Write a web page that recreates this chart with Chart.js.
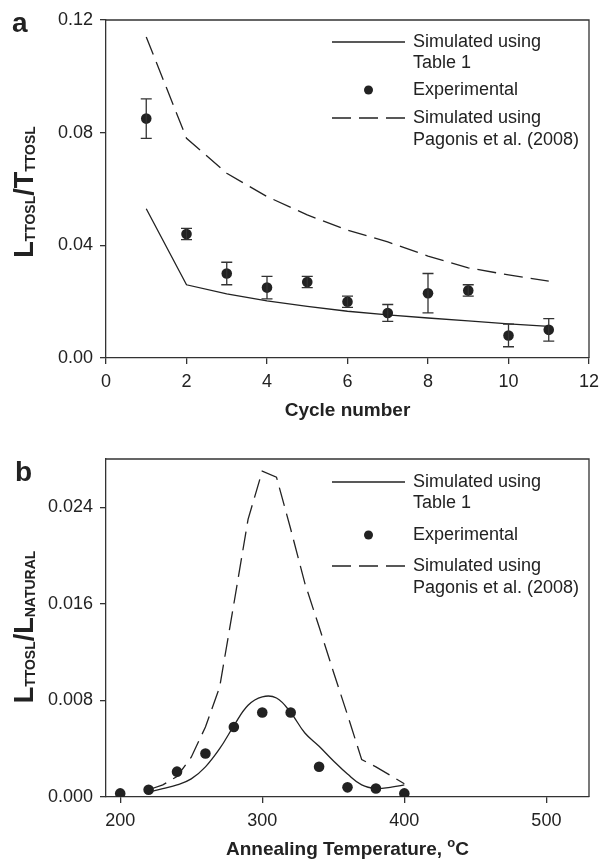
<!DOCTYPE html>
<html>
<head>
<meta charset="utf-8">
<script src="https://cdn.jsdelivr.net/npm/chart.js@4.4.1/dist/chart.umd.min.js"></script>
<style>
  body { margin: 0; background: #fff; }
  #wrap { position: relative; width: 601px; height: 860px; }
  canvas { position: absolute; left: 0; }
  #cA { top: 0; }
  #cB { top: 420px; }
</style>
</head>
<body>
<div id="wrap">
  <canvas id="cA" width="601" height="420"></canvas>
  <canvas id="cB" width="601" height="440"></canvas>
</div>
<script>
// ---- data: panel a (cycle number) ----
const cycleNums        = [1, 2, 3, 4, 5, 6, 7, 8, 9, 10, 11];
const cycleExp         = [0.085, 0.044, 0.030, 0.025, 0.027, 0.020, 0.016, 0.023, 0.024, 0.008, 0.010];
const cycleErr         = [0.007, 0.002, 0.004, 0.004, 0.002, 0.002, 0.003, 0.007, 0.002, 0.004, 0.004];
const cycleSimTable    = [0.053, 0.026, 0.0228, 0.0203, 0.0183, 0.0166, 0.0153, 0.0142, 0.0132, 0.0121, 0.0112];
const cycleSimPagonis  = [0.114, 0.078, 0.0656, 0.0573, 0.0508, 0.0454, 0.0412, 0.0362, 0.0320, 0.0295, 0.0273];
const cycleXTicks      = [0, 2, 4, 6, 8, 10, 12];
const cycleYTicks      = [0, 0.04, 0.08, 0.12];

// ---- data: panel b (annealing temperature) ----
const annealTemps      = [200, 220, 240, 260, 280, 300, 320, 340, 360, 380, 400];
const annealExp        = [0.0003, 0.0006, 0.0021, 0.0036, 0.0058, 0.0070, 0.0070, 0.0025, 0.0008, 0.0007, 0.0003];
const simTemps         = [220, 230, 240, 250, 260, 270, 280, 290, 300, 310, 320, 330, 340, 350, 360, 370, 380, 390, 400];
const annealSimTable   = [0.0004, 0.0007, 0.0010, 0.0015, 0.0025, 0.0040, 0.0059, 0.0076, 0.0083, 0.0082, 0.0070, 0.0053, 0.0042, 0.0030, 0.0019, 0.0010, 0.0007, 0.0008, 0.0010];
const annealSimPagonis = [0.0006, 0.0010, 0.0017, 0.0033, 0.0058, 0.0091, 0.0160, 0.0230, 0.0270, 0.0265, 0.0222, 0.0177, 0.0141, 0.0104, 0.0068, 0.0031, 0.0025, 0.0018, 0.0011];
const annealXTicks     = [200, 300, 400, 500];
const annealYTicks     = [0, 0.008, 0.016, 0.024];

const INK = '#222';
const AXIS = '#333';
const FONT = 'Liberation Sans, Arial, sans-serif';
const DASH = [19, 8];

const pts = (xs, ys) => xs.map((x, i) => ({ x, y: ys[i] }));

// error bars, box, legend, axis titles
const decorPlugin = {
  id: 'decor',
  afterDatasetsDraw(chart) {
    const { ctx, chartArea: a, scales } = chart;
    ctx.save();
    // error bars
    chart.data.datasets.forEach(ds => {
      if (!ds.err) return;
      ctx.strokeStyle = AXIS;
      ctx.lineWidth = 1.3;
      ds.data.forEach((p, i) => {
        const x = scales.x.getPixelForValue(p.x);
        const y1 = scales.y.getPixelForValue(p.y + ds.err[i]);
        const y2 = scales.y.getPixelForValue(p.y - ds.err[i]);
        ctx.beginPath();
        ctx.moveTo(x, y1); ctx.lineTo(x, y2);
        ctx.moveTo(x - 5.5, y1); ctx.lineTo(x + 5.5, y1);
        ctx.moveTo(x - 5.5, y2); ctx.lineTo(x + 5.5, y2);
        ctx.stroke();
      });
    });
    // box top/right
    ctx.strokeStyle = AXIS;
    ctx.lineWidth = 1.3;
    ctx.beginPath();
    ctx.moveTo(a.left, a.top); ctx.lineTo(a.right, a.top); ctx.lineTo(a.right, a.bottom);
    ctx.stroke();
    ctx.restore();
  },
  afterDraw(chart) {
    const { ctx, chartArea: a } = chart;
    const o = chart.options.plugins.decor;
    ctx.save();
    // legend
    const lx1 = 332, lx2 = 405, tx = 413;
    ctx.fillStyle = INK;
    ctx.font = '18px ' + FONT;
    ctx.textBaseline = 'middle';
    ctx.textAlign = 'left';
    const r = o.legendRows.map(v => a.top + v);
    ctx.strokeStyle = INK; ctx.lineWidth = 1.3;
    ctx.beginPath(); ctx.moveTo(lx1, r[0]); ctx.lineTo(lx2, r[0]); ctx.stroke();
    ctx.fillText('Simulated using', tx, r[0]);
    ctx.fillText('Table 1', tx, r[1]);
    ctx.beginPath(); ctx.arc((lx1 + lx2) / 2, r[2], 4.5, 0, Math.PI * 2); ctx.fill();
    ctx.fillText('Experimental', tx, r[2]);
    ctx.setLineDash(DASH);
    ctx.beginPath(); ctx.moveTo(lx1, r[3]); ctx.lineTo(lx2, r[3]); ctx.stroke();
    ctx.setLineDash([]);
    ctx.fillText('Simulated using', tx, r[3]);
    ctx.fillText('Pagonis et al. (2008)', tx, r[4]);

    // panel letter
    ctx.font = 'bold 28px ' + FONT;
    ctx.textBaseline = 'alphabetic';
    ctx.fillText(o.letter, o.letterPos[0], o.letterPos[1]);

    // x title (with optional superscript)
    const xt = o.xTitle;
    let w = 0;
    xt.forEach(p => { ctx.font = 'bold ' + p.size + 'px ' + FONT; w += ctx.measureText(p.t).width; });
    let cx = (a.left + a.right) / 2 - w / 2;
    xt.forEach(p => {
      ctx.font = 'bold ' + p.size + 'px ' + FONT;
      ctx.fillText(p.t, cx, o.xTitleY + (p.dy || 0));
      cx += ctx.measureText(p.t).width;
    });

    // y title (rotated, with subscripts)
    const yt = o.yTitle;
    w = 0;
    yt.forEach(p => { ctx.font = 'bold ' + p.size + 'px ' + FONT; w += ctx.measureText(p.t).width; });
    ctx.translate(o.yTitleX, o.yTitleY);
    ctx.rotate(-Math.PI / 2);
    let px = -w / 2;
    yt.forEach(p => {
      ctx.font = 'bold ' + p.size + 'px ' + FONT;
      ctx.fillText(p.t, px, p.dy || 0);
      px += ctx.measureText(p.t).width;
    });
    ctx.restore();
  }
};

function axisOpts(ticksArr, fmt, min, max, sizeFn) {
  return {
    type: 'linear',
    min, max,
    afterBuildTicks: s => { s.ticks = ticksArr.map(v => ({ value: v })); },
    afterFit: sizeFn,
    border: { display: true, color: AXIS, width: 1.3 },
    grid: { drawOnChartArea: false, drawTicks: true, tickLength: 6, color: AXIS, lineWidth: 1.3 },
    ticks: { color: INK, font: { family: FONT, size: 18 }, padding: 7, callback: fmt, maxRotation: 0, autoSkip: false }
  };
}

function lineDs(data, dashed, tension) {
  return {
    data, showLine: true, borderColor: INK, borderWidth: 1.3,
    borderDash: dashed ? DASH : [], pointRadius: 0, tension: tension || 0, fill: false
  };
}

function pointDs(data, err) {
  return {
    data, err, showLine: false, pointRadius: 5.3, pointBackgroundColor: INK,
    pointBorderColor: INK, pointBorderWidth: 0
  };
}

// ---- panel a ----
new Chart(document.getElementById('cA'), {
  type: 'scatter',
  data: {
    datasets: [
      lineDs(pts(cycleNums, cycleSimTable), false),
      lineDs(pts(cycleNums, cycleSimPagonis), true),
      pointDs(pts(cycleNums, cycleExp), cycleErr)
    ]
  },
  options: {
    responsive: false,
    animation: false,
    layout: { padding: { top: 20, right: 12, left: 0, bottom: 0 } },
    plugins: {
      legend: { display: false },
      tooltip: { enabled: false },
      decor: {
        letter: 'a', letterPos: [12, 32],
        legendRows: [22, 43, 70, 98, 120],
        xTitle: [{ t: 'Cycle number', size: 19 }], xTitleY: 416,
        yTitleX: 33, yTitleY: 192,
        yTitle: [
          { t: 'L', size: 27 }, { t: 'TTOSL', size: 14, dy: 2 },
          { t: '/', size: 27 }, { t: 'T', size: 27 }, { t: 'TTOSL', size: 14, dy: 2 }
        ]
      }
    },
    scales: {
      x: axisOpts(cycleXTicks, v => v, 0, 12, s => { s.height = 62; s.paddingLeft = 0; s.paddingRight = 0; }),
      y: axisOpts(cycleYTicks, v => v.toFixed(2), 0, 0.12, s => { s.width = 106; })
    }
  },
  plugins: [decorPlugin]
});

// ---- panel b ----
new Chart(document.getElementById('cB'), {
  type: 'scatter',
  data: {
    datasets: [
      lineDs(pts(simTemps, annealSimTable), false, 0.4),
      lineDs(pts(simTemps, annealSimPagonis), true),
      pointDs(pts(annealTemps, annealExp))
    ]
  },
  options: {
    responsive: false,
    animation: false,
    layout: { padding: { top: 39, right: 12, left: 0, bottom: 0 } },
    plugins: {
      legend: { display: false },
      tooltip: { enabled: false },
      decor: {
        letter: 'b', letterPos: [15, 61],
        legendRows: [23, 44, 76, 107, 129],
        xTitle: [
          { t: 'Annealing Temperature, ', size: 19 },
          { t: 'o', size: 13, dy: -8 },
          { t: 'C', size: 19 }
        ], xTitleY: 435,
        yTitleX: 33, yTitleY: 207,
        yTitle: [
          { t: 'L', size: 27 }, { t: 'TTOSL', size: 14, dy: 2 },
          { t: '/', size: 27 }, { t: 'L', size: 27 }, { t: 'NATURAL', size: 14, dy: 2 }
        ]
      }
    },
    scales: {
      x: axisOpts(annealXTicks, v => v, 190, 530, s => { s.height = 63; s.paddingLeft = 0; s.paddingRight = 0; }),
      y: axisOpts(annealYTicks, v => v.toFixed(3), 0, 0.028, s => { s.width = 106; })
    }
  },
  plugins: [decorPlugin]
});
</script>
</body>
</html>
